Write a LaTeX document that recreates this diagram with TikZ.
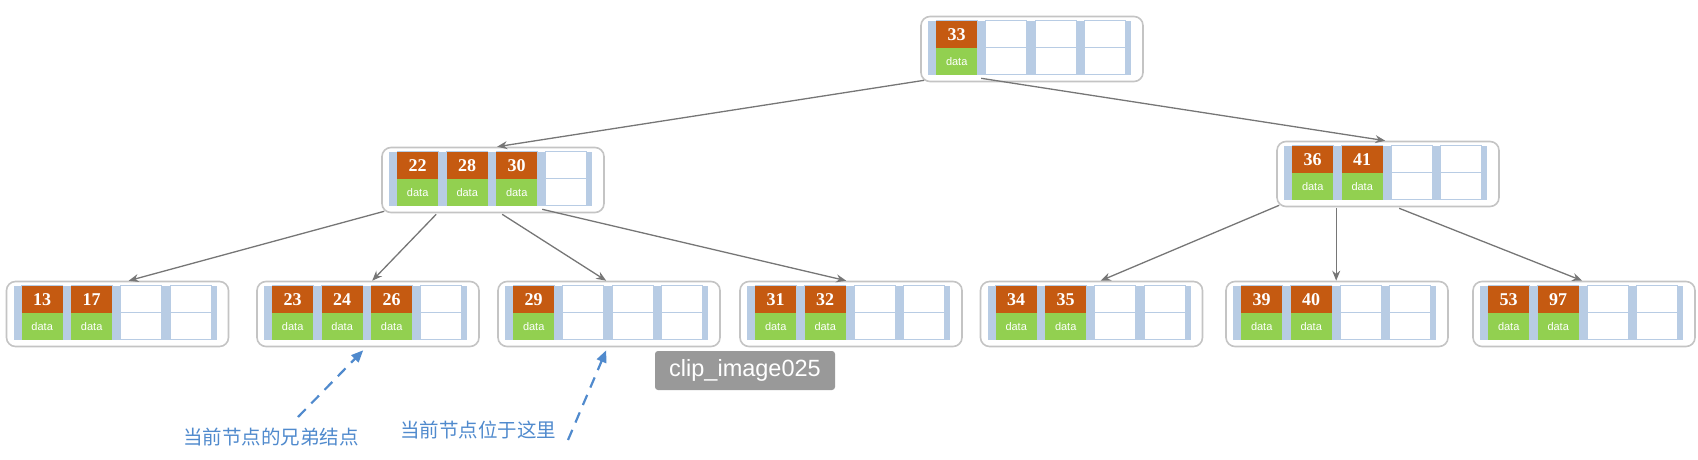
\documentclass[tikz,border=0pt]{standalone}
\usepackage{fontspec}
\usetikzlibrary{arrows.meta}
\newfontfamily\cjk{Noto Sans CJK SC}
\newfontfamily\tipfont{Liberation Sans}
\newfontfamily\keyfont{Liberation Serif}

\definecolor{keyred}{RGB}{197,90,17}
\definecolor{datagreen}{RGB}{146,208,80}
\definecolor{slotblue}{RGB}{184,204,228}
\definecolor{boxgray}{RGB}{196,196,196}
\definecolor{linkgray}{RGB}{118,118,118}
\definecolor{notblue}{RGB}{80,138,205}

% one B+ tree node: name, centre, keys
\newcommand{\btnode}[3]{%
  \node[treebox] (#1) at #2 {};
  \fill[slotbar] ([shift={(8,5)}]#1.north west) rectangle ([shift={(211,59)}]#1.north west);
  \foreach \i in {0,...,3}{
    \draw[emptyslot] ([shift={(16+49.5*\i,5)}]#1.north west) rectangle ++(41,54);
    \draw[emptyslot] ([shift={(16+49.5*\i,32)}]#1.north west) -- ++(41,0);
  }
  \foreach \k [count=\i from 0] in {#3}{
    \fill[keycell] ([shift={(16+49.5*\i,5)}]#1.north west) rectangle ++(41,27);
    \fill[datacell] ([shift={(16+49.5*\i,32)}]#1.north west) rectangle ++(41,27);
    \node[keytext] at ([shift={(36.5+49.5*\i,18.5)}]#1.north west) {\k};
    \node[datatext] at ([shift={(36.5+49.5*\i,45.5)}]#1.north west) {data};
  }
}

\begin{document}
\begin{tikzpicture}[x=1pt,y=-1pt,
    treebox/.style={rectangle,rounded corners=9pt,draw=boxgray,line width=1.6pt,
      fill=white,minimum width=222pt,minimum height=65pt,inner sep=0pt},
    slotbar/.style={fill=slotblue},
    emptyslot/.style={draw=slotblue,fill=white,line width=1pt},
    keycell/.style={fill=keyred},
    datacell/.style={fill=datagreen},
    keytext/.style={text=white,font=\keyfont\fontsize{18}{18}\selectfont\bfseries,inner sep=0pt},
    datatext/.style={text=white,font=\tipfont\fontsize{11}{11}\selectfont,inner sep=0pt},
    link/.style={draw=linkgray,line width=1.3pt,-{Stealth[length=10pt,width=8pt]}},
    hint/.style={draw=notblue,line width=2.2pt,dash pattern=on 11pt off 8pt,
      -{Triangle[length=12pt,width=10pt]}},
    note/.style={text=notblue,font=\cjk\fontsize{19.5}{19.5}\selectfont,inner sep=0pt},
    tip/.style={rectangle,rounded corners=3pt,fill=black!40,text=white,
      font=\tipfont\fontsize{23.5}{23.5}\selectfont,minimum width=180pt,minimum height=39pt}
    ]
\useasboundingbox (0,0) rectangle (1698,460);

\btnode{root}{(1032,49)}{33}
\btnode{inl}{(493,180)}{22,28,30}
\btnode{inr}{(1388,174)}{36,41}
\btnode{lfa}{(117.5,314)}{13,17}
\btnode{lfb}{(368,314)}{23,24,26}
\btnode{lfc}{(609,314)}{29}
\btnode{lfd}{(851,314)}{31,32}
\btnode{lfe}{(1091.5,314)}{34,35}
\btnode{lff}{(1337,314)}{39,40}
\btnode{lfg}{(1584,314)}{53,97}

\draw[link] ([shift={(4,-2)}]root.south west) -- ([shift={(116,0)}]inl.north west);
\draw[link] ([shift={(61,-4)}]root.south west) -- ([shift={(109,0)}]inr.north west);
\draw[link] ([shift={(3,-2)}]inl.south west) -- ([shift={(123,0)}]lfa.north west);
\draw[link] ([shift={(55,1)}]inl.south west) -- ([shift={(116,0)}]lfb.north west);
\draw[link] ([shift={(121,1)}]inl.south west) -- ([shift={(109,0)}]lfc.north west);
\draw[link] ([shift={(161,-4)}]inl.south west) -- ([shift={(107,0)}]lfd.north west);
\draw[link] ([shift={(3,-2)}]inr.south west) -- ([shift={(121,0)}]lfe.north west);
\draw[link] ([shift={(60,1)}]inr.south west) -- ([shift={(111,0)}]lff.north west);
\draw[link] ([shift={(123,1)}]inr.south west) -- ([shift={(110,0)}]lfg.north west);

\node[note] (sib) at (271,437) {当前节点的兄弟结点};
\node[note] (cur) at (478,430) {当前节点位于这里};
\coordinate (sibend) at (298,417);
\coordinate (curend) at (568,440);
\draw[hint] (sibend) -- ([shift={(107,3)}]lfb.south west);
\draw[hint] (curend) -- ([shift={(109,3)}]lfc.south west);

\node[tip] (clip) at (745,370.5) {clip\_image025};
\end{tikzpicture}
\end{document}
